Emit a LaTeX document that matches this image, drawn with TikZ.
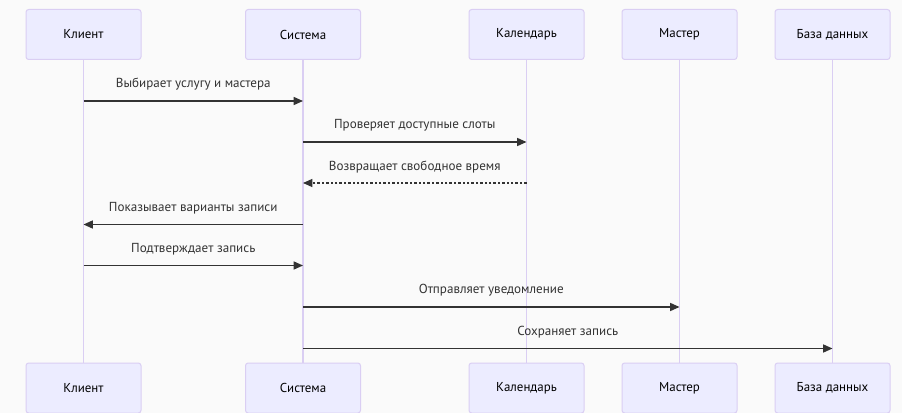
\documentclass[tikz,border=0pt]{standalone}
\usepackage{fontspec}
\setmainfont{PT Sans}
\usetikzlibrary{arrows.meta}
\definecolor{bgc}{HTML}{FAFAFA}
\definecolor{actfill}{HTML}{ECECFF}
\definecolor{actline}{HTML}{DACEF3}
\definecolor{msgc}{HTML}{333333}
\tikzset{
  actor/.style={draw=actline, fill=actfill, line width=0.75pt, rounded corners=2pt,
    minimum width=86.25pt, minimum height=37.5pt, inner sep=0pt,
    font=\fontsize{9.7}{11}\selectfont, text=black},
  lifeline/.style={draw=actline, line width=1.1pt},
  msg/.style={draw=msgc, line width=1.05pt, -{Triangle[length=7pt,width=6pt]}},
  reply/.style={msg, line width=0.9pt, dash pattern=on 1.8pt off 1.5pt},
  lbl/.style={font=\fontsize{9.8}{11}\selectfont, text=msgc, inner sep=0pt}
}
\begin{document}
\begin{tikzpicture}[x=0.75pt, y=-0.75pt]
\fill[bgc] (0,0) rectangle (902,413);
\useasboundingbox (0,0) rectangle (902,413);
% top actors
\node[actor] (cl) at (83.5,34.5) {Клиент};
\node[actor] (sy) at (303,34.5) {Система};
\node[actor] (ca) at (526.5,34.5) {Календарь};
\node[actor] (ma) at (679.5,34.5) {Мастер};
\node[actor] (db) at (832.5,34.5) {База данных};
% bottom actors
\node[actor] (clb) at (83.5,388) {Клиент};
\node[actor] (syb) at (303,388) {Система};
\node[actor] (cab) at (526.5,388) {Календарь};
\node[actor] (mab) at (679.5,388) {Мастер};
\node[actor] (dbb) at (832.5,388) {База данных};
% lifelines
\draw[lifeline] (cl.south) -- (clb.north);
\draw[lifeline] (sy.south) -- (syb.north);
\draw[lifeline] (ca.south) -- (cab.north);
\draw[lifeline] (ma.south) -- (mab.north);
\draw[lifeline] (db.south) -- (dbb.north);
% message rows
\coordinate (r1) at (0,101);
\coordinate (r2) at (0,142);
\coordinate (r3) at (0,183);
\coordinate (r4) at (0,224.5);
\coordinate (r5) at (0,265.5);
\coordinate (r6) at (0,307);
\coordinate (r7) at (0,348.5);
\draw[msg] (cl |- r1) -- node[lbl, above=7.25pt] (t1) {Выбирает услугу и мастера} (sy |- r1);
\draw[msg] (sy |- r2) -- node[lbl, above=7.25pt] (t2) {Проверяет доступные слоты} (ca |- r2);
\draw[reply] (ca |- r3) -- node[lbl, above=7.25pt] (t3) {Возвращает свободное время} (sy |- r3);
\draw[msg] (sy |- r4) -- node[lbl, above=7.25pt] (t4) {Показывает варианты записи} (cl |- r4);
\draw[msg] (cl |- r5) -- node[lbl, above=7.25pt] (t5) {Подтверждает запись} (sy |- r5);
\draw[msg] (sy |- r6) -- node[lbl, above=7.25pt] (t6) {Отправляет уведомление} (ma |- r6);
\draw[msg] (sy |- r7) -- node[lbl, above=7.25pt] (t7) {Сохраняет запись} (db |- r7);
\end{tikzpicture}
\end{document}
